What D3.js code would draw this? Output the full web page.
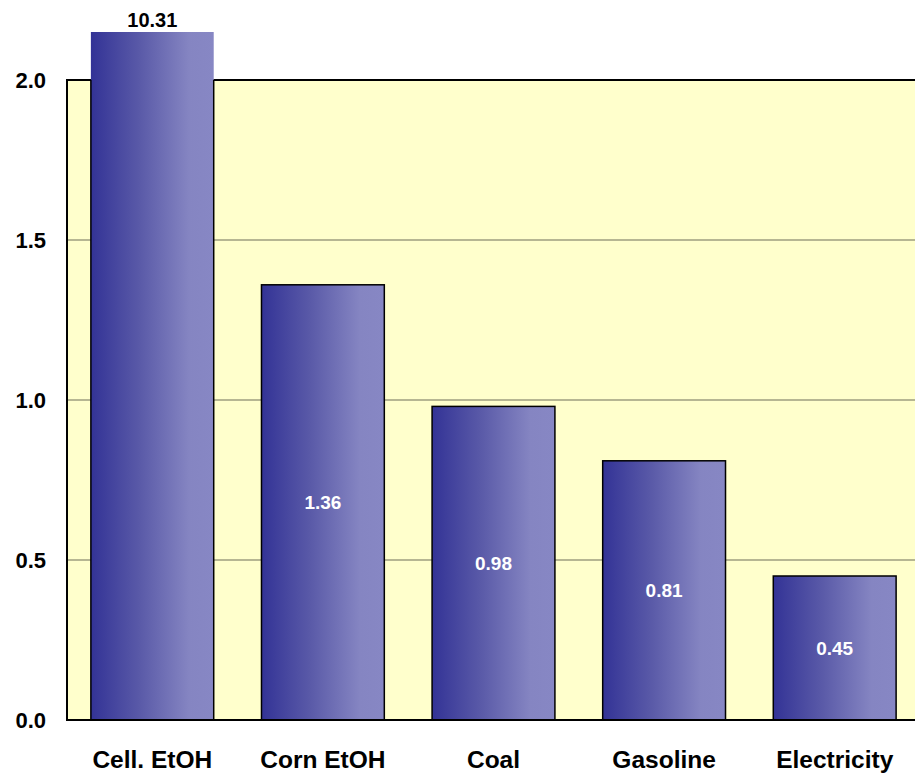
<!DOCTYPE html>
<html>
<head>
<meta charset="utf-8">
<script src="https://cdn.jsdelivr.net/npm/d3@7"></script>
<style>
  html, body { margin: 0; padding: 0; background: #ffffff; }
  svg { display: block; }
</style>
</head>
<body>
<svg id="chart" width="915" height="774"></svg>
<script>
const categories = ["Cell. EtOH", "Corn EtOH", "Coal", "Gasoline", "Electricity"];
const values = [10.31, 1.36, 0.98, 0.81, 0.45];
const valueLabels = ["10.31", "1.36", "0.98", "0.81", "0.45"];
const yTicks = [0.0, 0.5, 1.0, 1.5, 2.0];
const yMax = 2.0;
const barCap = 2.15; // broken-axis display height for off-scale bar

const svg = d3.select("#chart");
const margin = { left: 67, top: 80, right: -5, bottom: 54 };
const W = 915, H = 774;
const x0 = margin.left, x1 = W - margin.right;
const y0 = H - margin.bottom, y1 = margin.top;

const x = d3.scaleBand().domain(categories).range([x0, x1]).paddingInner(0.28).paddingOuter(0.14);
const y = d3.scaleLinear().domain([0, yMax]).range([y0, y1]);

const defs = svg.append("defs");
const grad = defs.append("linearGradient").attr("id", "barGrad")
  .attr("x1", "0%").attr("x2", "100%").attr("y1", "0%").attr("y2", "0%");
grad.append("stop").attr("offset", "0%").attr("stop-color", "#333396");
grad.append("stop").attr("offset", "40%").attr("stop-color", "#5a5aa8");
grad.append("stop").attr("offset", "80%").attr("stop-color", "#8585c2");
grad.append("stop").attr("offset", "100%").attr("stop-color", "#8787c4");

defs.append("clipPath").attr("id", "plotClip")
  .append("rect").attr("x", x0).attr("y", y1).attr("width", x1 - x0).attr("height", y0 - y1);

// plot background
svg.append("rect").attr("x", x0).attr("y", y1).attr("width", x1 - x0).attr("height", y0 - y1)
  .attr("fill", "#ffffcc");

// gridlines
svg.append("g").selectAll("line").data(yTicks.filter(t => t > 0 && t < yMax)).join("line")
  .attr("x1", x0).attr("x2", x1)
  .attr("y1", d => y(d)).attr("y2", d => y(d))
  .attr("stroke", "#6e6e58").attr("stroke-width", 1.2);

// plot frame
svg.append("rect").attr("x", x0).attr("y", y1).attr("width", x1 - x0).attr("height", y0 - y1)
  .attr("fill", "none").attr("stroke", "#000").attr("stroke-width", 2);

const data = categories.map((c, i) => ({ c, v: values[i], label: valueLabels[i], h: Math.min(values[i], barCap) }));

// bar fills (unclipped so the off-scale bar rises above the frame)
svg.append("g").selectAll("rect").data(data).join("rect")
  .attr("x", d => x(d.c)).attr("width", x.bandwidth())
  .attr("y", d => y(d.h)).attr("height", d => y(0) - y(d.h))
  .attr("fill", "url(#barGrad)");

// bar outlines clipped to plot area
svg.append("g").attr("clip-path", "url(#plotClip)").selectAll("rect").data(data).join("rect")
  .attr("x", d => x(d.c)).attr("width", x.bandwidth())
  .attr("y", d => y(d.h)).attr("height", d => y(0) - y(d.h))
  .attr("fill", "none").attr("stroke", "#000").attr("stroke-width", 1.5);

// bottom axis line on top
svg.append("line").attr("x1", x0).attr("x2", x1).attr("y1", y0).attr("y2", y0)
  .attr("stroke", "#000").attr("stroke-width", 2);

// value labels
svg.append("g").selectAll("text").data(data).join("text")
  .attr("x", d => x(d.c) + x.bandwidth() / 2)
  .attr("y", d => d.v > yMax ? y(d.h) - 5 : (y(d.h) + y(0)) / 2)
  .attr("dy", d => d.v > yMax ? 0 : "0.35em")
  .attr("text-anchor", "middle")
  .attr("font-family", "'Liberation Sans', Arial, sans-serif")
  .attr("font-weight", "bold")
  .attr("font-size", d => d.v > yMax ? 20 : 19)
  .attr("fill", d => d.v > yMax ? "#000" : "#fff")
  .text(d => d.label);

// y axis tick labels
const yAxis = d3.axisLeft(y).tickValues(yTicks).tickFormat(d3.format(".1f")).tickSize(0).tickPadding(21);
const ya = svg.append("g").attr("transform", `translate(${x0},0)`).call(yAxis);
ya.select(".domain").remove();
ya.selectAll("text")
  .attr("font-family", "'Liberation Sans', Arial, sans-serif")
  .attr("font-weight", "bold").attr("font-size", 22).attr("fill", "#000");

// x axis category labels
const xAxis = d3.axisBottom(x).tickSize(0).tickPadding(31);
const xa = svg.append("g").attr("transform", `translate(0,${y0})`).call(xAxis);
xa.select(".domain").remove();
xa.selectAll("text")
  .attr("font-family", "'Liberation Sans', Arial, sans-serif")
  .attr("font-weight", "bold").attr("font-size", 24.5).attr("fill", "#000");
</script>
</body>
</html>
